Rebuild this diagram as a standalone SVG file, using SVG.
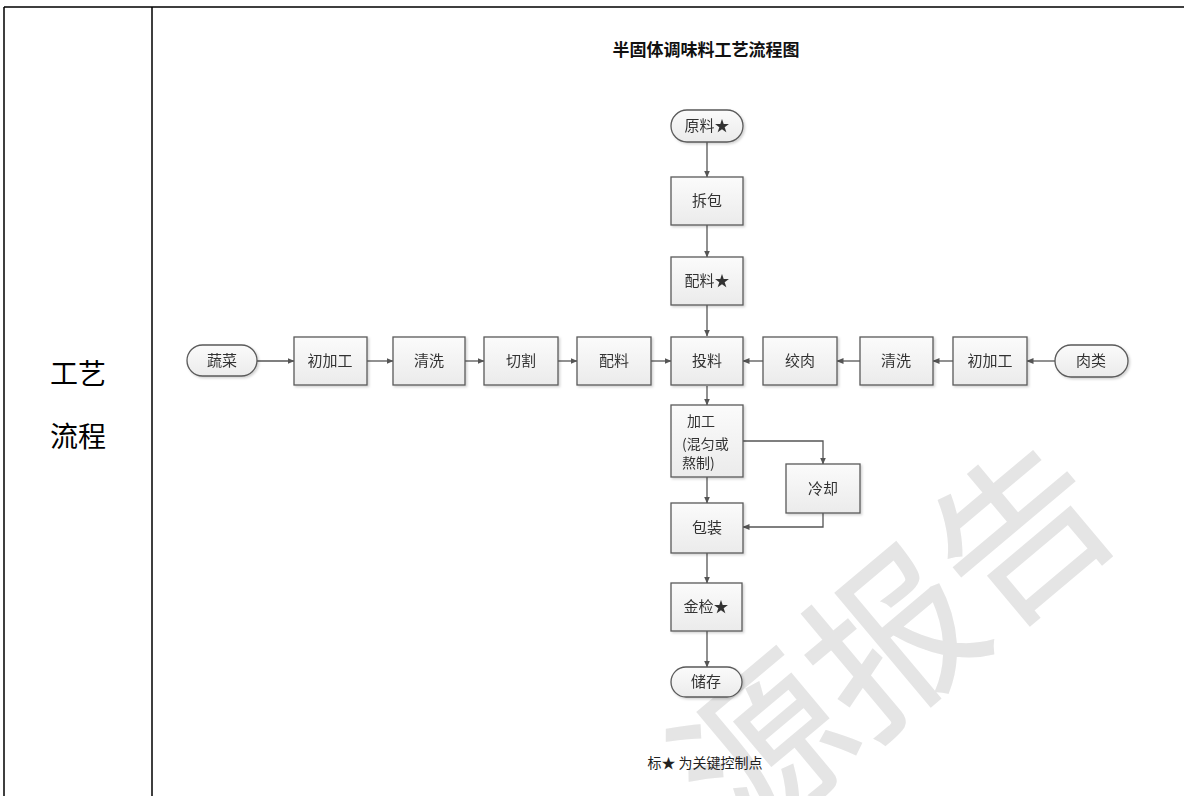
<svg xmlns="http://www.w3.org/2000/svg" width="1184" height="796" viewBox="0 0 1184 796">
<style>
  .box{fill:url(#g);stroke:#5a5a5a;stroke-width:1.3}
  .t{font-family:"Noto Sans CJK SC","Noto Sans",sans-serif;font-size:15px;fill:#333;text-anchor:middle}
  .tl{font-family:"Noto Sans CJK SC","Noto Sans",sans-serif;font-size:14px;fill:#333}
  .c{fill:none;stroke:#555;stroke-width:1.3;marker-end:url(#a)}
  .frame{stroke:#000;stroke-width:1.5;fill:none}
</style>
<defs>
  <linearGradient id="g" x1="0" y1="0" x2="0" y2="1">
    <stop offset="0" stop-color="#fbfbfb"/>
    <stop offset="1" stop-color="#ebebeb"/>
  </linearGradient>
  <marker id="a" markerWidth="7" markerHeight="6" refX="6.5" refY="3" orient="auto" markerUnits="userSpaceOnUse">
    <path d="M0,0 L7,3 L0,6 Z" fill="#555"/>
  </marker>
  <filter id="sh" x="-10%" y="-10%" width="130%" height="130%">
    <feDropShadow dx="1.5" dy="1.5" stdDeviation="1" flood-color="#000" flood-opacity="0.18"/>
  </filter>
</defs>
<rect width="1184" height="796" fill="#fff"/>
<g id="table">
  <path class="frame" d="M4,7 H1184 M4,7 V796 M152,7 V796"/>
</g>
<g id="watermark">
  <text x="885" y="632" transform="rotate(-40 885 632)" font-family="Noto Sans CJK SC,sans-serif" font-size="168" fill="#e5e5e5" stroke="#e5e5e5" stroke-width="1.5" text-anchor="middle" dominant-baseline="central">源报告</text>
</g>
<text x="78" y="384" font-family="Noto Sans CJK SC,sans-serif" font-size="28" fill="#000" text-anchor="middle">工艺</text>
<text x="78" y="447" font-family="Noto Sans CJK SC,sans-serif" font-size="28" fill="#000" text-anchor="middle">流程</text>
<text x="706" y="56" font-family="Noto Sans CJK SC,sans-serif" font-size="17" font-weight="bold" fill="#111" text-anchor="middle">半固体调味料工艺流程图</text>
<text x="705" y="768" font-family="Noto Sans CJK SC,sans-serif" font-size="14" fill="#222" text-anchor="middle">标★ 为关键控制点</text>

<g id="connectors">
  <path class="c" d="M707,142 V177"/>
  <path class="c" d="M707,225 V257"/>
  <path class="c" d="M707,305 V336"/>
  <path class="c" d="M707,386 V405"/>
  <path class="c" d="M707,477 V503"/>
  <path class="c" d="M707,553 V583"/>
  <path class="c" d="M707,631 V667"/>
  <path class="c" d="M743,441 H823 V464"/>
  <path class="c" d="M823,513 V527 H743"/>
  <path class="c" d="M257,361 H294"/>
  <path class="c" d="M367,361 H393"/>
  <path class="c" d="M465,361 H484"/>
  <path class="c" d="M558,361 H577"/>
  <path class="c" d="M651,361 H671"/>
  <path class="c" d="M763,361 H743"/>
  <path class="c" d="M860,361 H837"/>
  <path class="c" d="M953,361 H933"/>
  <path class="c" d="M1055,361 H1027"/>
</g>

<g id="n-yuanliao" filter="url(#sh)"><rect class="box" x="671" y="110" width="72" height="32" rx="16"/><text class="t" x="707" y="131">原料★</text></g>
<g id="n-chaibao" filter="url(#sh)"><rect class="box" x="671" y="177" width="72" height="48"/><text class="t" x="707" y="206">拆包</text></g>
<g id="n-peiliao1" filter="url(#sh)"><rect class="box" x="671" y="257" width="72" height="48"/><text class="t" x="707" y="286">配料★</text></g>
<g id="n-touliao" filter="url(#sh)"><rect class="box" x="671" y="337" width="72" height="48"/><text class="t" x="707" y="366">投料</text></g>

<g id="n-shucai" filter="url(#sh)"><rect class="box" x="187" y="345" width="70" height="31" rx="15.5"/><text class="t" x="222" y="366">蔬菜</text></g>
<g id="n-chujiagong1" filter="url(#sh)"><rect class="box" x="294" y="337" width="73" height="48"/><text class="t" x="330" y="366">初加工</text></g>
<g id="n-qingxi1" filter="url(#sh)"><rect class="box" x="393" y="337" width="72" height="48"/><text class="t" x="429" y="366">清洗</text></g>
<g id="n-qiege" filter="url(#sh)"><rect class="box" x="484" y="337" width="74" height="48"/><text class="t" x="521" y="366">切割</text></g>
<g id="n-peiliao2" filter="url(#sh)"><rect class="box" x="577" y="337" width="74" height="48"/><text class="t" x="614" y="366">配料</text></g>

<g id="n-jiaorou" filter="url(#sh)"><rect class="box" x="763" y="337" width="74" height="48"/><text class="t" x="800" y="366">绞肉</text></g>
<g id="n-qingxi2" filter="url(#sh)"><rect class="box" x="860" y="337" width="73" height="48"/><text class="t" x="896" y="366">清洗</text></g>
<g id="n-chujiagong2" filter="url(#sh)"><rect class="box" x="953" y="337" width="74" height="48"/><text class="t" x="990" y="366">初加工</text></g>
<g id="n-roulei" filter="url(#sh)"><rect class="box" x="1055" y="345" width="73" height="32" rx="16"/><text class="t" x="1091" y="366">肉类</text></g>

<g id="n-jiagong" filter="url(#sh)"><rect class="box" x="671" y="405" width="72" height="72"/>
  <text class="tl" x="687" y="426">加工</text>
  <text class="tl" x="682" y="449">(混匀或</text>
  <text class="tl" x="682" y="468">熬制)</text>
</g>
<g id="n-lengque" filter="url(#sh)"><rect class="box" x="786" y="464" width="74" height="49"/><text class="t" x="823" y="494">冷却</text></g>
<g id="n-baozhuang" filter="url(#sh)"><rect class="box" x="671" y="503" width="72" height="50"/><text class="t" x="707" y="533">包装</text></g>
<g id="n-jinjian" filter="url(#sh)"><rect class="box" x="671" y="583" width="71" height="48"/><text class="t" x="706" y="612">金检★</text></g>
<g id="n-chucun" filter="url(#sh)"><rect class="box" x="671" y="667" width="71" height="30" rx="15"/><text class="t" x="706" y="687">储存</text></g>
</svg>
